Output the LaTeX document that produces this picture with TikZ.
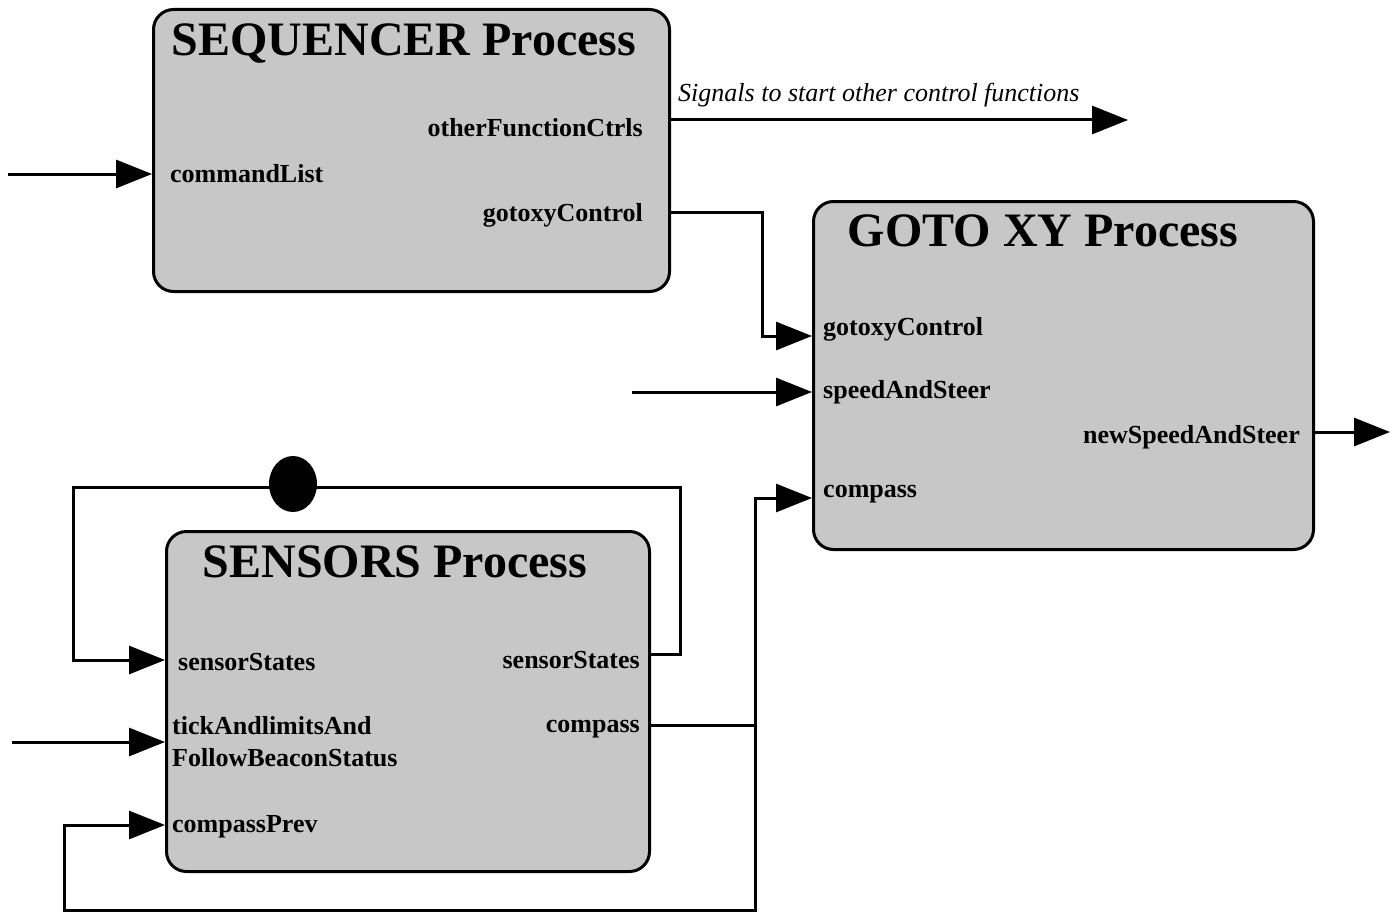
\documentclass[tikz,border=0pt]{standalone}
\usepackage{fontspec}
\setmainfont{Liberation Serif}
\usetikzlibrary{arrows.meta,shapes.geometric}
\begin{document}
\begin{tikzpicture}[x=1pt,y=-1pt,
  procbox/.style={draw=black,line width=3pt,fill=black!22,rounded corners=20pt,anchor=north west,inner sep=0pt},
  ttl/.style={font=\fontsize{48}{52}\selectfont\bfseries,inner sep=0pt,anchor=base},
  lblw/.style={font=\fontsize{26}{32}\selectfont\bfseries,inner sep=0pt,anchor=base west,align=left},
  lble/.style={font=\fontsize{26}{32}\selectfont\bfseries,inner sep=0pt,anchor=base east},
  note/.style={font=\fontsize{26}{30}\selectfont\itshape,inner sep=0pt,anchor=base west},
  wire/.style={line width=3pt},
  arr/.style={line width=3pt,-{Triangle[length=36pt,width=28pt]}},
  dot/.style={ellipse,fill=black,minimum width=48pt,minimum height=56pt,inner sep=0pt}]
\useasboundingbox (0,0) rectangle (1394,915);
% boxes
\node[procbox,minimum width=516pt,minimum height=282pt] (seq) at (152,8) {};
\node[procbox,minimum width=500pt,minimum height=348pt] (goto) at (812,200) {};
\node[procbox,minimum width=483pt,minimum height=340pt] (sens) at (165,530) {};
% titles
\node[ttl] (seqt) at (404,56) {SEQUENCER Process};
\node[ttl] (gotot) at (1043,246) {GOTO XY Process};
\node[ttl] (senst) at (395,577) {SENSORS Process};
% sequencer labels
\node[lble] (ofc) at (643,136) {otherFunctionCtrls};
\node[lblw] (cmd) at (170,182) {commandList};
\node[lble] (gxs) at (643,221) {gotoxyControl};
\node[note] (sig) at (678,102) {Signals to start other control functions};
% goto labels
\node[lblw] (gxg) at (823,335) {gotoxyControl};
\node[lblw] (sas) at (823,398) {speedAndSteer};
\node[lble] (nsas) at (1300,443) {newSpeedAndSteer};
\node[lblw] (cmpg) at (823,497) {compass};
% sensors labels
\node[lblw] (ssin) at (178,670) {sensorStates};
\node[lble] (ssout) at (640,668) {sensorStates};
\node[lblw] (tick) at (172,766) {tickAndlimitsAnd\\FollowBeaconStatus};
\node[lble] (cmps) at (640,732) {compass};
\node[lblw] (cprev) at (172,832) {compassPrev};
% coordinates
\coordinate (cmdin) at (8,174);
\coordinate (ofout) at (1128,120);
\coordinate (gxbend) at (762,212);
\coordinate (gxin) at (762,336);
\coordinate (sasin) at (632,392);
\coordinate (nsout) at (1390,432);
\coordinate (jn) at (755,725);
\coordinate (cmpin) at (755,498);
\coordinate (bot) at (755,910);
\coordinate (botl) at (64,910);
\coordinate (cprevin) at (64,825);
\coordinate (loopr) at (680,654);
\coordinate (looptr) at (680,487);
\coordinate (looptl) at (73,487);
\coordinate (loopin) at (73,660);
\coordinate (tickin) at (12,742);
% connectors
\draw[arr] (cmdin) -- (cmdin -| seq.west);
\draw[arr] (seq.east |- ofout) -- (ofout);
\draw[arr] (seq.east |- gxbend) -- (gxbend) -- (gxin) -- (gxin -| goto.west);
\draw[arr] (sasin) -- (sasin -| goto.west);
\draw[arr] (goto.east |- nsout) -- (nsout);
\draw[wire] (sens.east |- jn) -- (jn);
\draw[arr] (jn) -- (cmpin) -- (cmpin -| goto.west);
\draw[arr] (jn) -- (bot) -- (botl) -- (cprevin) -- (cprevin -| sens.west);
\draw[arr] (sens.east |- loopr) -- (loopr) -- (looptr) -- (looptl) -- (loopin) -- (loopin -| sens.west);
\node[dot] (delay) at (293,484) {};
\draw[arr] (tickin) -- (tickin -| sens.west);
\end{tikzpicture}
\end{document}
